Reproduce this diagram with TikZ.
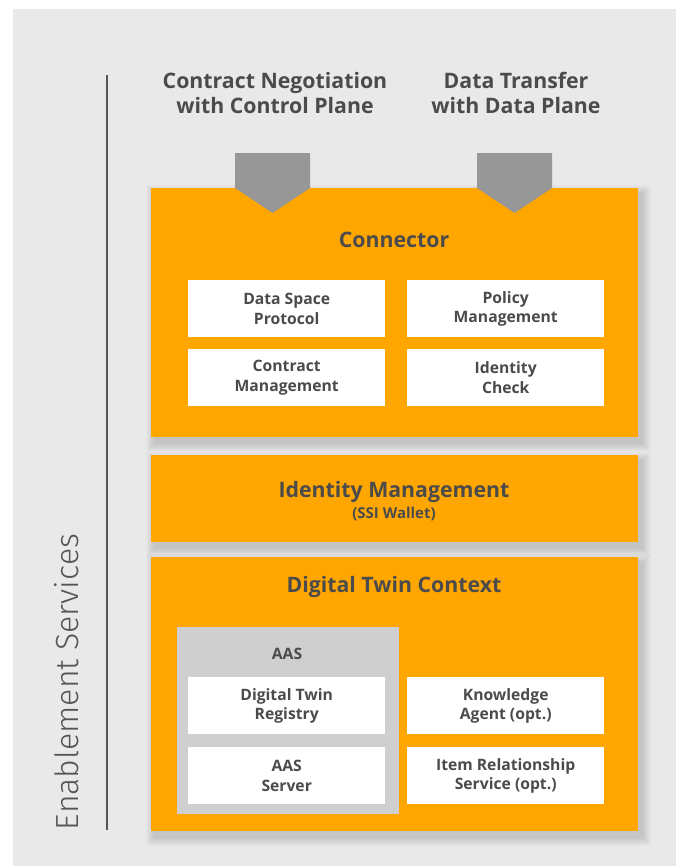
\documentclass[tikz,border=0pt]{standalone}
\usepackage{fontspec}
\setmainfont{Open Sans}
\newfontfamily\lightfont{Fira Sans Light}

\definecolor{bggray}{HTML}{E9E9E9}
\definecolor{panelorange}{HTML}{FFA600}
\definecolor{aasgray}{HTML}{CFCFCF}
\definecolor{arrowgray}{HTML}{979797}
\definecolor{textgray}{HTML}{4B4B4B}
\definecolor{rulegray}{HTML}{555555}

\tikzset{
  panel/.style={fill=panelorange, draw=none, anchor=north west, inner sep=0pt},
  whitebox/.style={fill=white, draw=none, anchor=north west, inner sep=0pt,
    minimum width=197pt, minimum height=57pt},
  boxtext/.style={text=textgray, align=center, font=\bfseries\fontsize{15.7}{19.5}\selectfont},
  headtext/.style={text=textgray, align=center, font=\bfseries\fontsize{21.3}{25.5}\selectfont},
  inarrow/.style={fill=arrowgray, draw=none},
  shadowlayer/.style={fill=black, opacity=0.014, draw=none},
}

\begin{document}
\begin{tikzpicture}[x=1pt,y=-1pt]
\useasboundingbox (0,0) rectangle (681,867);
\fill[bggray] (13,9) rectangle (676,866);

% side rule and rotated label
\coordinate (ruletop) at (107,75);
\coordinate (rulebot) at (107,830);
\draw[rulegray, line width=2pt] (ruletop) -- (rulebot);
\node[rotate=90, text=rulegray, inner sep=0pt,
      font=\lightfont\fontsize{32}{32}\selectfont] (es) at (67,682) {Enablement Services};

% top labels
\node[headtext] (cn) at (275,93) {Contract Negotiation\\with Control Plane};
\node[headtext] (dt) at (516,93) {Data Transfer\\with Data Plane};

% panel corners, soft drop shadows from stacked translucent layers, then the panels
\path (151,188) coordinate (connnw) (638,437) coordinate (connse);
\path (151,455) coordinate (idmnw) (638,542) coordinate (idmse);
\path (151,557) coordinate (dtcnw) (638,831) coordinate (dtcse);
\foreach \p in {conn,idm,dtc}{
  \foreach \s in {1,...,9}{
    \fill[shadowlayer] ([shift={(4-\s,6-\s)}]\p nw) rectangle ([shift={(4+\s,6+\s)}]\p se);
  }
}
\node[panel, minimum width=487pt, minimum height=249pt] (conn) at (connnw) {};
\node[panel, minimum width=487pt, minimum height=87pt] (idm) at (idmnw) {};
\node[panel, minimum width=487pt, minimum height=274pt] (dtc) at (dtcnw) {};

% inbound arrows
\fill[inarrow] (235,153) -- (310,153) -- (310,188) -- (272.5,213) -- (235,188) -- cycle;
\fill[inarrow] (477,153) -- (552,153) -- (552,188) -- (514.5,213) -- (477,188) -- cycle;

% connector content
\node[headtext] (conntitle) at (394,240) {Connector};
\node[whitebox] (dsp) at (188,280) {};
\node[boxtext] at (dsp.center) {Data Space\\Protocol};
\node[whitebox] (pm) at (407,280) {};
\node[boxtext] at (pm.center) {Policy\\Management};
\node[whitebox] (cm) at (188,349) {};
\node[boxtext] at (cm.center) {Contract\\Management};
\node[whitebox] (ic) at (407,349) {};
\node[boxtext] at (ic.center) {Identity\\Check};

% identity management content
\node[headtext] (idmtitle) at (394,492) {Identity Management};
\node[text=textgray, font=\bfseries\fontsize{15}{15}\selectfont] (ssi) at (394,514) {(SSI Wallet)};

% digital twin context content
\node[headtext] (dtctitle) at (394,587) {Digital Twin Context};
\node[fill=aasgray, anchor=north west, inner sep=0pt, minimum width=222pt, minimum height=187pt] (aas) at (177,627) {};
\node[boxtext] (aastitle) at (287,654) {AAS};
\node[whitebox] (dtr) at (188,677) {};
\node[boxtext] at (dtr.center) {Digital Twin\\Registry};
\node[whitebox] (ka) at (407,677) {};
\node[boxtext] at (ka.center) {Knowledge\\Agent (opt.)};
\node[whitebox] (srv) at (188,747) {};
\node[boxtext] at (srv.center) {AAS\\Server};
\node[whitebox] (irs) at (407,747) {};
\node[boxtext] at (irs.center) {Item Relationship\\Service (opt.)};
\end{tikzpicture}
\end{document}
